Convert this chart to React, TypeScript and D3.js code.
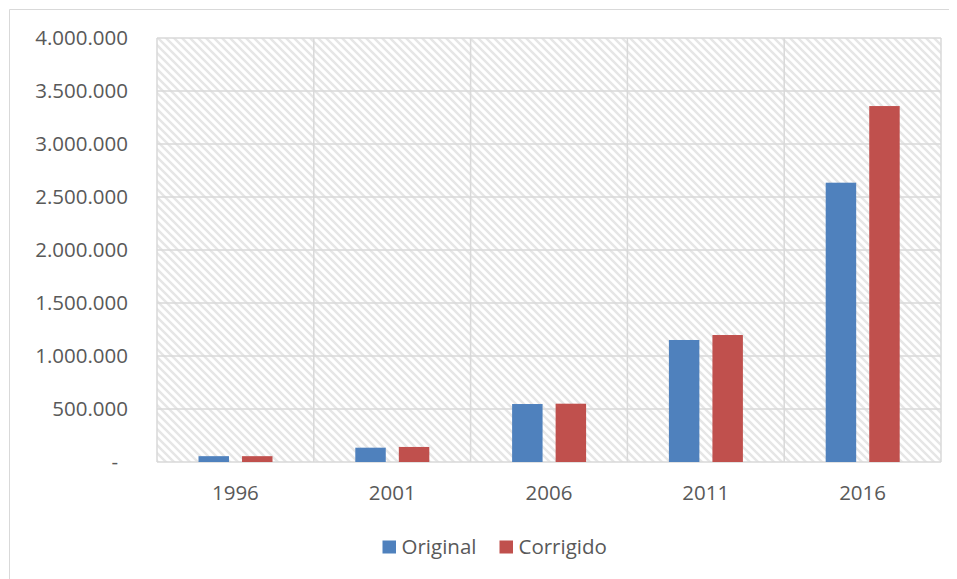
import React from "react";
import * as d3 from "d3";

const years = ["1996", "2001", "2006", "2011", "2016"];
const seriesNames = ["Original", "Corrigido"];
const original = [55000, 135000, 547000, 1151000, 2635000];
const corrigido = [55000, 142000, 550000, 1198000, 3358000];
const yTicks = [0, 500000, 1000000, 1500000, 2000000, 2500000, 3000000, 3500000, 4000000];
const colors = ["#4f81bd", "#c0504d"];

const locale = d3.formatLocale({ decimal: ",", thousands: ".", grouping: [3], currency: ["", ""] });
const fmt = locale.format(",.0f");

export default function App() {
  const W = 949, H = 571;
  const left = 157, right = 941, top = 38, bottom = 462;
  const x0 = d3.scaleBand<string>().domain(years).range([left, right]);
  const x1 = d3.scaleBand<string>().domain(seriesNames).range([41.5, 115.5]).paddingInner(0.3);
  const y = d3.scaleLinear().domain([0, 4000000]).range([bottom, top]);
  const data = [original, corrigido];
  const font = "'Open Sans', 'Noto Sans', sans-serif";
  const textColor = "#595959";
  const grid = "#d9d9d9";
  return (
    <svg width={W} height={H} style={{ display: "block" }}>
      <defs>
        <pattern id="hatch" patternUnits="userSpaceOnUse" width={8} height={8}>
          <rect width={8} height={8} fill="#ffffff" />
          <path d="M-4,4 L4,12 M-4,-4 L12,12 M4,-4 L12,4" stroke="#e6e6e6" strokeWidth={2.4} />
        </pattern>
      </defs>
      <g transform="translate(-8,-8)">
        <rect x={0} y={0} width={957} height={579} fill="#ffffff" />
        <line x1={9.5} y1={9.5} x2={957} y2={9.5} stroke={grid} strokeWidth={1} />
        <line x1={9.5} y1={9.5} x2={9.5} y2={579} stroke={grid} strokeWidth={1} />
        <rect x={left} y={top} width={right - left} height={bottom - top} fill="url(#hatch)" />
        {yTicks.map((t) => (
          <line key={"h" + t} x1={left} x2={right} y1={y(t)} y2={y(t)} stroke={grid} strokeWidth={1.5} />
        ))}
        {years.map((yr) => (
          <line key={"v" + yr} x1={x0(yr)!} x2={x0(yr)!} y1={top} y2={bottom} stroke={grid} strokeWidth={1.5} />
        ))}
        <line x1={right} x2={right} y1={top} y2={bottom} stroke={grid} strokeWidth={1.5} />
        {years.map((yr, i) =>
          seriesNames.map((s, j) => {
            const v = data[j][i];
            return (
              <rect
                key={yr + s}
                x={x0(yr)! + x1(s)!}
                y={y(v)}
                width={x1.bandwidth()}
                height={bottom - y(v)}
                fill={colors[j]}
              />
            );
          })
        )}
        {yTicks.map((t) => (
          <text
            key={"t" + t}
            x={t === 0 ? 118 : 128}
            y={y(t)}
            dy="0.35em"
            textAnchor="end"
            fontFamily={font}
            fontSize={20.5}
            fill={textColor}
          >
            {t === 0 ? "-" : fmt(t)}
          </text>
        ))}
        {years.map((yr) => (
          <text
            key={"x" + yr}
            x={x0(yr)! + x0.bandwidth() / 2}
            y={500}
            textAnchor="middle"
            fontFamily={font}
            fontSize={20.5}
            fill={textColor}
          >
            {yr}
          </text>
        ))}
        {seriesNames.map((s, j) => {
          const lx = j === 0 ? 382.5 : 499.5;
          return (
            <g key={"l" + s}>
              <rect x={lx} y={540.5} width={13.5} height={13} fill={colors[j]} />
              <text x={lx + 19} y={554} fontFamily={font} fontSize={20.5} fill={textColor}>
                {s}
              </text>
            </g>
          );
        })}
      </g>
    </svg>
  );
}
